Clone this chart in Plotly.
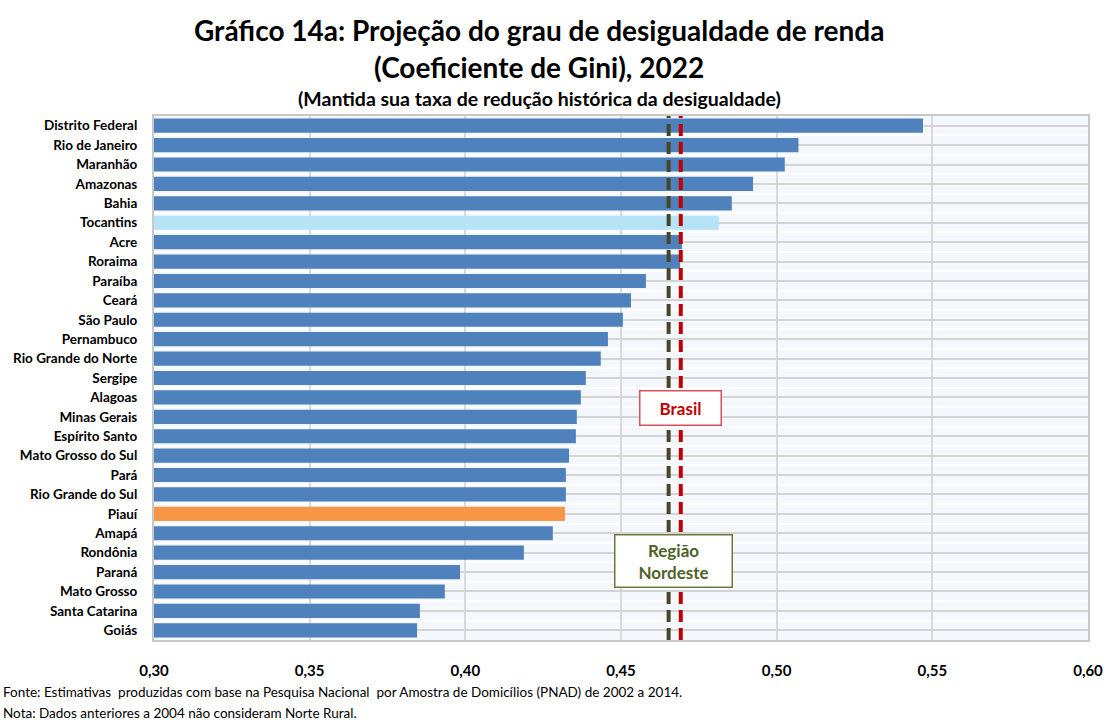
import plotly.graph_objects as go

states = ["Distrito Federal", "Rio de Janeiro", "Maranhão", "Amazonas", "Bahia", "Tocantins",
          "Acre", "Roraima", "Paraíba", "Ceará", "São Paulo", "Pernambuco", "Rio Grande do Norte",
          "Sergipe", "Alagoas", "Minas Gerais", "Espírito Santo", "Mato Grosso do Sul", "Pará",
          "Rio Grande do Sul", "Piauí", "Amapá", "Rondônia", "Paraná", "Mato Grosso",
          "Santa Catarina", "Goiás"]
gini_2022 = [0.547, 0.507, 0.5026, 0.4924, 0.4856, 0.4814,
             0.4696, 0.469, 0.458, 0.4532, 0.4506, 0.4458, 0.4435,
             0.4387, 0.4371, 0.4358, 0.4355, 0.4333, 0.4323,
             0.4323, 0.432, 0.4281, 0.4188, 0.3983, 0.3934,
             0.3854, 0.3845]
brasil_ref = 0.4692
nordeste_ref = 0.4653
x_ticks = [0.30, 0.35, 0.40, 0.45, 0.50, 0.55, 0.60]
x_tick_labels = ["0,30", "0,35", "0,40", "0,45", "0,50", "0,55", "0,60"]

BLUE = "#4F81BD"
LIGHT = "#B7E3F6"
ORANGE = "#F79646"
colors = [LIGHT if s == "Tocantins" else ORANGE if s == "Piauí" else BLUE for s in states]
idx = list(range(len(states)))
FONT = "Lato, 'Open Sans', sans-serif"

# plot area in pixels: top 116, bottom 640 -> height 524
def py(ypx):
    return (640 - ypx) / 524.0

TITLE_X = (539 - 154) / 934.0

fig = go.Figure()
fig.add_trace(go.Bar(x=gini_2022, y=idx, orientation="h", marker=dict(color=colors, line=dict(width=0)),
                     base=0, showlegend=False, hoverinfo="skip"))

fig.add_shape(type="line", xref="x", yref="paper", x0=nordeste_ref, x1=nordeste_ref, y0=0, y1=1,
              line=dict(color="#4A452A", width=4, dash="12px,6px"))
fig.add_shape(type="line", xref="x", yref="paper", x0=brasil_ref, x1=brasil_ref, y0=0, y1=1,
              line=dict(color="#C00000", width=4, dash="12px,6px"))

fig.add_annotation(x=brasil_ref, y=14.55, xref="x", yref="y", text="<b>Brasil</b>", showarrow=False,
                   font=dict(family=FONT, size=17, color="#C00000"), bgcolor="white",
                   bordercolor="#D9505A", borderwidth=1.5, borderpad=6, width=68)
fig.add_annotation(x=(brasil_ref + nordeste_ref) / 2 - 0.0005, y=22.45, xref="x", yref="y",
                   text="<b>Região<br>Nordeste</b>", showarrow=False,
                   font=dict(family=FONT, size=17, color="#4F6228"), bgcolor="white",
                   bordercolor="#6B7A3A", borderwidth=1.5, borderpad=4, width=108)

fig.update_layout(
    width=1107, height=720,
    margin=dict(l=154, r=19, t=116, b=80, autoexpand=False),
    paper_bgcolor="white", plot_bgcolor="#F4F8FC",
    font=dict(family=FONT, color="black"),
    bargap=0.27,
    xaxis=dict(range=[0.30, 0.60], tickvals=x_ticks, ticktext=x_tick_labels,
               tickfont=dict(family=FONT, size=15, color="black", weight="bold"),
               showgrid=True, gridcolor="#D9D9D9", gridwidth=1.5, zeroline=False,
               showline=True, linecolor="#C8C8C8", linewidth=2, mirror=True, ticks="", ticklen=0,
               ticklabelstandoff=16, automargin=False),
    yaxis=dict(range=[len(states) - 0.5, -0.5], tickvals=idx, ticktext=states,
               tickfont=dict(family=FONT, size=13.5, color="black", weight="bold"),
               showgrid=True, gridcolor="#D4D4D4", gridwidth=1.5, zeroline=False,
               showline=True, linecolor="#C8C8C8", linewidth=2, mirror=True, ticks="",
               ticklabelstandoff=12, automargin=False,
               minor=dict(tick0=0.5, dtick=1, showgrid=True, gridcolor="white", gridwidth=2)),
)

fig.add_annotation(xref="paper", yref="paper", x=TITLE_X, y=py(30), xanchor="center", yanchor="middle",
                   text="<b>Gráfico 14a: Projeção do grau de desigualdade de renda</b>", showarrow=False,
                   font=dict(family=FONT, size=28, color="black"))
fig.add_annotation(xref="paper", yref="paper", x=TITLE_X, y=py(67), xanchor="center", yanchor="middle",
                   text="<b>(Coeficiente de Gini), 2022</b>", showarrow=False,
                   font=dict(family=FONT, size=28, color="black"))
fig.add_annotation(xref="paper", yref="paper", x=TITLE_X, y=py(98), xanchor="center", yanchor="middle",
                   text="<b>(Mantida sua taxa de redução histórica da desigualdade)</b>", showarrow=False,
                   font=dict(family=FONT, size=19.5, color="black"))

FOOT_X = (1 - 154) / 934.0
fig.add_annotation(xref="paper", yref="paper", x=FOOT_X, y=py(692), xanchor="left", yanchor="middle",
                   text="Fonte: Estimativas  produzidas com base na Pesquisa Nacional  por Amostra de Domicílios (PNAD) de 2002 a 2014.",
                   showarrow=False, font=dict(family=FONT, size=13.5, color="black"))
fig.add_annotation(xref="paper", yref="paper", x=FOOT_X, y=py(713), xanchor="left", yanchor="middle",
                   text="Nota: Dados anteriores a 2004 não consideram Norte Rural.",
                   showarrow=False, font=dict(family=FONT, size=13.5, color="black"))

fig.write_html("out.html", config={"displayModeBar": False},
               post_script="document.body.style.margin='0';document.body.style.padding='0';")
